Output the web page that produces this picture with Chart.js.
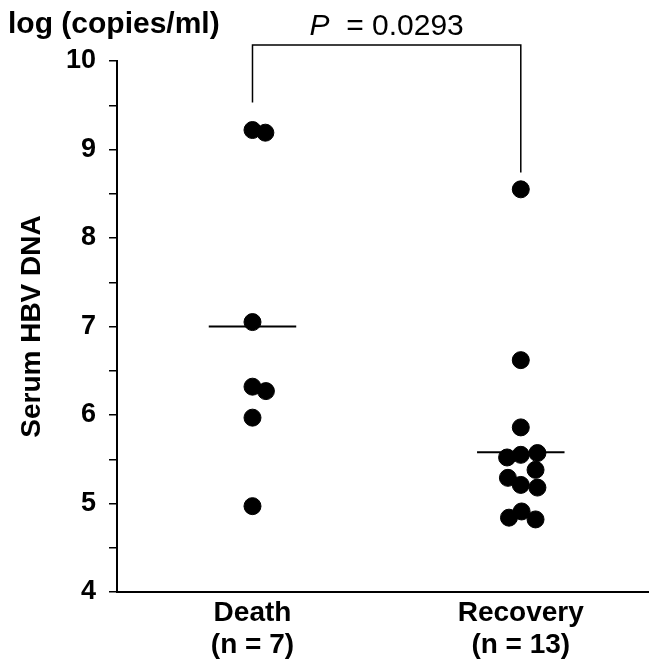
<!DOCTYPE html>
<html>
<head>
<meta charset="utf-8">
<script src="https://cdn.jsdelivr.net/npm/chart.js@4.4.1/dist/chart.umd.min.js"></script>
<style>
  html, body { margin: 0; padding: 0; background: #fff; overflow: hidden; }
  #wrap { position: relative; width: 658px; height: 665px; }
</style>
</head>
<body>
<div id="wrap"><canvas id="c"></canvas></div>
<script>
// ---- data ----
const categories = ['Death', 'Recovery'];
const groupSizes = [7, 13];
const deathValues    = [9.22, 9.19, 7.05, 6.32, 6.27, 5.97, 4.97];
const deathJitter    = [0, 0.048, 0, 0, 0.05, 0, 0];
const recoveryValues = [8.55, 6.62, 5.86, 5.52, 5.55, 5.57, 5.38, 5.29, 5.21, 5.18, 4.84, 4.91, 4.82];
const recoveryJitter = [0, 0, 0, -0.051, 0, 0.062, 0.055, -0.048, 0, 0.062, -0.044, 0.003, 0.055];
const medians = [7.0, 5.58];
const bracketLevels = [9.53, 10.18, 8.74]; // left end, top, right end
const pValueText = '0.0293';
const yTickMin = 4, yTickMax = 10, yTickStep = 0.5;

// ---- build datasets ----
const MEDIAN_HALF = 0.163;
const pts = [];
deathValues.forEach((v, i) => pts.push({ x: 1 + deathJitter[i], y: v }));
recoveryValues.forEach((v, i) => pts.push({ x: 2 + recoveryJitter[i], y: v }));

const medianSets = medians.map((m, i) => ({
  type: 'line',
  data: [{ x: i + 1 - MEDIAN_HALF, y: m }, { x: i + 1 + MEDIAN_HALF, y: m }],
  borderColor: '#000', borderWidth: 2, pointRadius: 0, fill: false, order: 2
}));

const bracketSet = {
  type: 'line',
  data: [
    { x: 1, y: bracketLevels[0] }, { x: 1, y: bracketLevels[1] },
    { x: 2, y: bracketLevels[1] }, { x: 2, y: bracketLevels[2] }
  ],
  borderColor: '#000', borderWidth: 1.5, pointRadius: 0, fill: false, clip: false, order: 3
};

const FONT = "'Liberation Sans', Arial, Helvetica, sans-serif";

const textPlugin = {
  id: 'texts',
  afterDraw(chart) {
    const ctx = chart.ctx;
    ctx.save();
    ctx.fillStyle = '#000';
    ctx.textBaseline = 'alphabetic';
    ctx.textAlign = 'left';
    ctx.font = 'bold 30px ' + FONT;
    ctx.fillText('log (copies/ml)', 8, 33);
    // P value, centered over bracket
    const xs = chart.scales.x;
    const cx = (xs.getPixelForValue(1) + xs.getPixelForValue(2)) / 2;
    ctx.font = 'italic 30px ' + FONT;
    const pW = ctx.measureText('P').width;
    ctx.font = '30px ' + FONT;
    const rest = '  = ' + pValueText;
    const rW = ctx.measureText(rest).width;
    const x0 = cx - (pW + rW) / 2;
    ctx.font = 'italic 30px ' + FONT;
    ctx.fillText('P', x0, 35);
    ctx.font = '30px ' + FONT;
    ctx.fillText(rest, x0 + pW, 35);
    ctx.restore();
  }
};

new Chart(document.getElementById('c'), {
  type: 'scatter',
  data: {
    datasets: [
      {
        data: pts,
        backgroundColor: '#000', borderColor: '#000',
        pointRadius: 8.5, pointHoverRadius: 8.5, order: 0
      },
      ...medianSets,
      bracketSet
    ]
  },
  options: {
    responsive: true,
    maintainAspectRatio: false,
    animation: false,
    layout: { padding: { top: 61, right: 0, left: 0, bottom: 0 } },
    plugins: { legend: { display: false }, tooltip: { enabled: false }, title: { display: false } },
    scales: {
      x: {
        type: 'linear',
        min: 0.495, max: 2.476,
        afterBuildTicks: (s) => { s.ticks = categories.map((c, i) => ({ value: i + 1 })); },
        afterFit: (s) => { s.height = 73; },
        ticks: {
          autoSkip: false, maxRotation: 0,
          color: '#000',
          font: { family: FONT, size: 28, weight: 'bold', lineHeight: 1.15 },
          padding: 5,
          callback: (v) => {
            const i = Math.round(v) - 1;
            return [categories[i], '(n = ' + groupSizes[i] + ')'];
          }
        },
        grid: { display: false, drawTicks: false },
        border: { display: true, color: '#000', width: 2 }
      },
      y: {
        type: 'linear',
        min: yTickMin, max: yTickMax,
        afterFit: (s) => { s.width = 117; },
        ticks: {
          stepSize: yTickStep,
          color: '#000',
          padding: 13,
          font: { family: FONT, size: 27, weight: 'bold' },
          callback: (v) => Number.isInteger(v) ? String(v) : ''
        },
        grid: { display: true, drawOnChartArea: false, drawTicks: true, tickLength: 8, color: '#000', lineWidth: 1.5 },
        border: { display: true, color: '#000', width: 2 },
        title: {
          display: true, text: 'Serum HBV DNA', color: '#000',
          font: { family: FONT, size: 28, weight: 'bold' },
          padding: { top: 15, bottom: 0 }
        }
      }
    }
  },
  plugins: [textPlugin]
});
</script>
</body>
</html>
